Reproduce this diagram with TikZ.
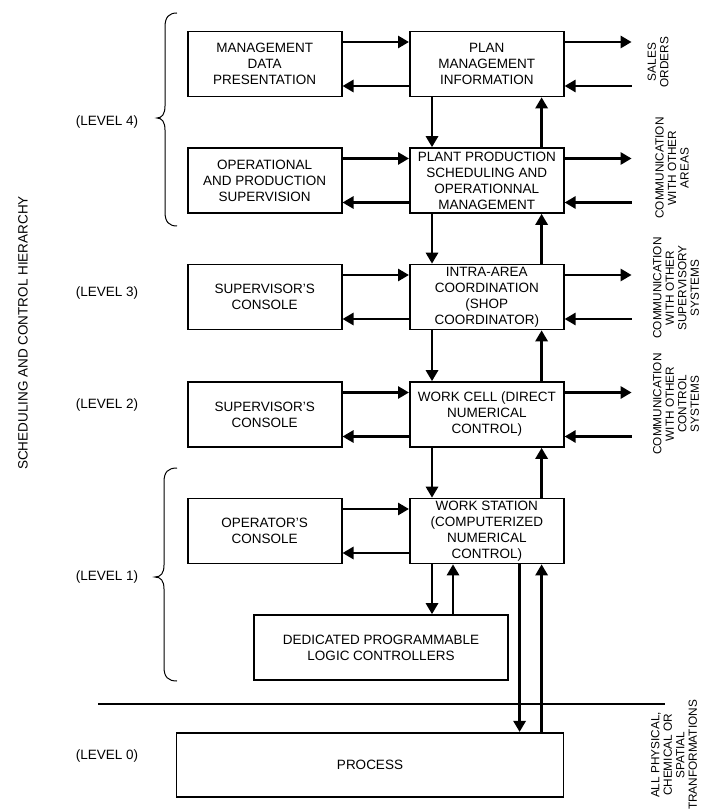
\documentclass[tikz,border=0pt]{standalone}
\usepackage{fontspec}
\setmainfont{Liberation Sans}
\usetikzlibrary{arrows.meta,calc}
\begin{document}
\begin{tikzpicture}[x=1pt,y=-1pt,
  box/.style={draw, line width=1.6pt, minimum width=154pt, minimum height=65pt, inner sep=0pt, align=center, font=\fontsize{13.5}{16}\selectfont},
  arr/.style={line width=2.9pt, -{Triangle[length=11pt,width=12pt]}},
  lvl/.style={font=\fontsize{13.5}{16}\selectfont, inner sep=0pt},
  side/.style={rotate=90, align=center, font=\fontsize{11.8}{12.5}\selectfont, inner sep=0pt},
  brc/.style={line width=1pt},
  sep/.style={line width=1.8pt}]
\useasboundingbox (0,0) rectangle (704,810);

% boxes
\node[box] (mdp) at (264.7,64) {MANAGEMENT\\DATA\\PRESENTATION};
\node[box] (pmi) at (486.8,64) {PLAN\\MANAGEMENT\\INFORMATION};
\node[box] (ops) at (264.7,180.5) {OPERATIONAL\\AND PRODUCTION\\SUPERVISION};
\node[box] (pps) at (486.8,180.5) {PLANT PRODUCTION\\SCHEDULING AND\\OPERATIONNAL\\MANAGEMENT};
\node[box] (sc3) at (264.7,297) {SUPERVISOR'S\\CONSOLE};
\node[box] (iac) at (486.8,297) {INTRA-AREA\\COORDINATION\\(SHOP\\COORDINATOR)};
\node[box] (sc2) at (264.7,414.5) {SUPERVISOR'S\\CONSOLE};
\node[box] (wc) at (486.8,414.5) {WORK CELL (DIRECT\\NUMERICAL\\CONTROL)};
\node[box] (oc) at (264.7,531) {OPERATOR'S\\CONSOLE};
\node[box] (ws) at (486.8,531) {WORK STATION\\(COMPUTERIZED\\NUMERICAL\\CONTROL)};
\node[box, minimum width=254pt] (dpl) at (381,647.5) {DEDICATED PROGRAMMABLE\\LOGIC CONTROLLERS};
\node[box, minimum width=387pt, minimum height=64.5pt] (proc) at (370,765) {PROCESS};

% horizontal arrows between columns
\foreach \l/\r in {mdp/pmi, ops/pps, sc3/iac, sc2/wc, oc/ws} {
  \draw[arr] ($(\l.north east)+(0,11.3)$) -- ($(\r.north west)+(0,11.3)$);
  \draw[arr] ($(\r.south west)+(0,-11.3)$) -- ($(\l.south east)+(0,-11.3)$);
}

% external arrows
\foreach \r in {pmi,pps,iac,wc} {
  \coordinate (\r out) at ($(\r.north east)+(67,11.3)$);
  \coordinate (\r in) at ($(\r.south east)+(67,-11.3)$);
  \draw[arr] ($(\r.north east)+(0,11.3)$) -- (\r out);
  \draw[arr] (\r in) -- ($(\r.south east)+(0,-11.3)$);
}

% vertical arrows between rows
\foreach \a/\b in {pmi/pps, pps/iac, iac/wc, wc/ws} {
  \draw[arr] ($(\a.south west)+(23,0)$) -- ($(\b.north west)+(23,0)$);
  \draw[arr] ($(\b.north east)+(-23,0)$) -- ($(\a.south east)+(-23,0)$);
}

% work station to PLC and process
\coordinate (wsa) at ($(ws.south west)+(23,0)$);
\coordinate (wsb) at ($(ws.south west)+(44,0)$);
\coordinate (wsc) at ($(ws.south east)+(-45,0)$);
\coordinate (wsd) at ($(ws.south east)+(-23,0)$);
\draw[arr] (wsa) -- (wsa |- dpl.north);
\draw[arr] (wsb |- dpl.north) -- (wsb);
\draw[arr] (wsc) -- (wsc |- proc.north);
\draw[arr] (wsd |- proc.north) -- (wsd);

% separator line
\coordinate (sepl) at (98,704);
\coordinate (sepr) at (665,704);
\draw[sep] (sepl) -- (sepr);

% braces
\draw[brc] (177,13) .. controls (169,13) and (165,17) .. (165,27) -- (165,106)
  .. controls (165,114) and (162,118) .. (157,118)
  .. controls (162,118) and (165,122) .. (165,130) -- (165,212)
  .. controls (165,222) and (169,226) .. (177,226);
\draw[brc] (177,468) .. controls (168,468) and (164,472) .. (164,482) -- (164,565)
  .. controls (164,573) and (161,577) .. (155,577)
  .. controls (161,577) and (164,581) .. (164,589) -- (164,667)
  .. controls (164,677) and (168,681) .. (177,681);

% level labels
\node[lvl] (l4) at (107,122) {(LEVEL 4)};
\node[lvl] (l3) at (107,293) {(LEVEL 3)};
\node[lvl] (l2) at (107,405) {(LEVEL 2)};
\node[lvl] (l1) at (107,577) {(LEVEL 1)};
\node[lvl] (l0) at (107,756) {(LEVEL 0)};

% title
\node[lvl, rotate=90] (title) at (23,333) {SCHEDULING AND CONTROL HIERARCHY};

% side labels
\node[side] (s1) at (658,62) {SALES\\ORDERS};
\node[side] (s2) at (672,168) {COMMUNICATION\\WITH OTHER\\AREAS};
\node[side] (s3) at (676,288) {COMMUNICATION\\WITH OTHER\\SUPERVISORY\\SYSTEMS};
\node[side] (s4) at (676,404) {COMMUNICATION\\WITH OTHER\\CONTROL\\SYSTEMS};
\node[side] (s5) at (674,755) {ALL PHYSICAL,\\CHEMICAL OR\\SPATIAL\\TRANFORMATIONS};
\end{tikzpicture}
\end{document}
